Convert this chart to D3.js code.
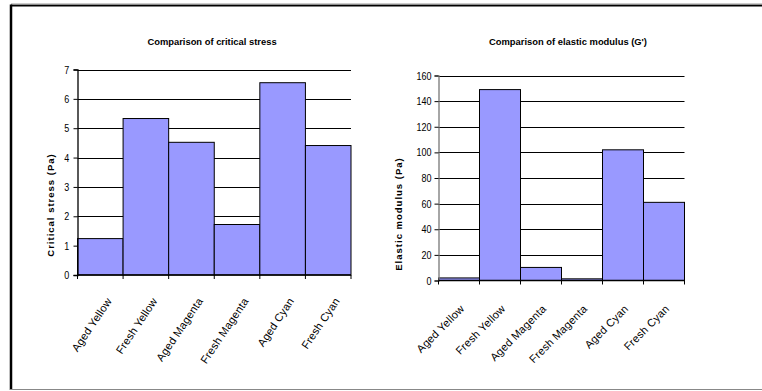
<!DOCTYPE html>
<html>
<head>
<meta charset="utf-8">
<script src="https://cdn.jsdelivr.net/npm/d3@7"></script>
<style>
  html, body { margin: 0; padding: 0; background: #fff; }
  svg { display: block; }
  text { font-family: "Liberation Sans", Arial, sans-serif; fill: #000; }
</style>
</head>
<body>
<svg id="chart" width="762" height="391"></svg>
<script>
// Sample names shared by both panels
const categories = ["Aged Yellow", "Fresh Yellow", "Aged Magenta", "Fresh Magenta", "Aged Cyan", "Fresh Cyan"];

// Critical stress, Pa
const criticalStress = [1.24, 5.33, 4.52, 1.72, 6.55, 4.41];
const stressTicks = [0, 1, 2, 3, 4, 5, 6, 7];

// Elastic modulus G', Pa
const elasticModulus = [2.0, 149, 10.2, 1.3, 102, 61];
const modulusTicks = [0, 20, 40, 60, 80, 100, 120, 140, 160];

const svg = d3.select("#chart");

// page frame
svg.append("line").attr("x1", 11).attr("x2", 762).attr("y1", 5.5).attr("y2", 5.5)
  .attr("stroke", "#000").attr("stroke-width", 2);
svg.append("line").attr("x1", 11).attr("x2", 762).attr("y1", 4).attr("y2", 4)
  .attr("stroke", "#999").attr("stroke-width", 1);
svg.append("line").attr("x1", 11).attr("x2", 11).attr("y1", 4.5).attr("y2", 390)
  .attr("stroke", "#000").attr("stroke-width", 2.5);
svg.append("line").attr("x1", 10).attr("x2", 762).attr("y1", 389.5).attr("y2", 389.5)
  .attr("stroke", "#888").attr("stroke-width", 1.2);

function panel(opts) {
  const g = svg.append("g");
  const x = d3.scaleBand().domain(categories).range([opts.x0, opts.x1]).paddingInner(0).paddingOuter(0);
  const y = d3.scaleLinear().domain(opts.domain).range([opts.y0, opts.y1]);

  // title
  g.append("text")
    .attr("x", opts.titleX).attr("y", 45)
    .attr("text-anchor", "middle")
    .attr("font-size", 9.4).attr("font-weight", "bold")
    .text(opts.title);

  // horizontal gridlines
  g.append("g").selectAll("line").data(opts.ticks.filter(t => t > 0)).join("line")
    .attr("x1", opts.x0).attr("x2", opts.x1)
    .attr("y1", d => Math.round(y(d)) + 0.5).attr("y2", d => Math.round(y(d)) + 0.5)
    .attr("stroke", "#000").attr("stroke-width", 1);

  // bars
  g.append("g").selectAll("rect").data(opts.values).join("rect")
    .attr("x", (d, i) => x(categories[i]))
    .attr("width", x.bandwidth())
    .attr("y", d => y(d))
    .attr("height", d => y(0) - y(d))
    .attr("fill", "#9999FF")
    .attr("stroke", "#000").attr("stroke-width", 1);

  // y axis; narrow digits via horizontal squeeze
  const squeeze = 0.82;
  const ya = g.append("g").attr("transform", `translate(${opts.x0},0)`)
    .call(d3.axisLeft(y).tickValues(opts.ticks).tickSize(4).tickPadding(opts.tickPad).tickFormat(d3.format("d")));
  ya.select(".domain").attr("stroke", opts.axisColor).attr("stroke-width", 1.3);
  ya.selectAll(".tick line").attr("stroke", "#000");
  ya.selectAll(".tick text")
    .attr("font-size", 11)
    .attr("font-family", "'Liberation Sans', Arial, sans-serif")
    .attr("fill", "#000")
    .attr("transform", `scale(${squeeze},1)`);

  // x axis with ticks at category boundaries
  g.append("line").attr("x1", opts.x0).attr("x2", opts.x1)
    .attr("y1", y(0)).attr("y2", y(0)).attr("stroke", "#000").attr("stroke-width", 1.5);
  const bounds = categories.map(c => x(c)).concat([opts.x1]);
  g.append("g").selectAll("line").data(bounds).join("line")
    .attr("x1", d => d).attr("x2", d => d)
    .attr("y1", y(0)).attr("y2", y(0) + 4)
    .attr("stroke", "#000");

  // category labels
  g.append("g").selectAll("text").data(categories).join("text")
    .attr("transform", c => `translate(${x(c) + x.bandwidth() / 2 + opts.labelDx},${y(0) + opts.labelDy}) rotate(${opts.angle})`)
    .attr("text-anchor", "end")
    .attr("font-size", 11)
    .attr("letter-spacing", 0.2)
    .text(c => c);

  // y axis title
  g.append("text")
    .attr("transform", `translate(${opts.ytX},${opts.ytY}) rotate(-90)`)
    .attr("text-anchor", "middle")
    .attr("font-size", 9.5).attr("font-weight", "bold")
    .attr("letter-spacing", 1)
    .text(opts.yTitle);
}

panel({
  title: "Comparison of critical stress", titleX: 212,
  x0: 77.5, x1: 351, y0: 275, y1: 69.5,
  domain: [0, 7], ticks: stressTicks, values: criticalStress,
  axisColor: "#000", angle: -56, labelDx: 12, labelDy: 26, tickPad: 6,
  yTitle: "Critical stress (Pa)", ytX: 54, ytY: 205
});

panel({
  title: "Comparison of elastic modulus (G')", titleX: 568,
  x0: 438.5, x1: 684.5, y0: 280.5, y1: 75.5,
  domain: [0, 160], ticks: modulusTicks, values: elasticModulus,
  axisColor: "#777", angle: -45, labelDx: 6, labelDy: 29, tickPad: 4.5,
  yTitle: "Elastic modulus (Pa)", ytX: 402, ytY: 214
});
</script>
</body>
</html>
